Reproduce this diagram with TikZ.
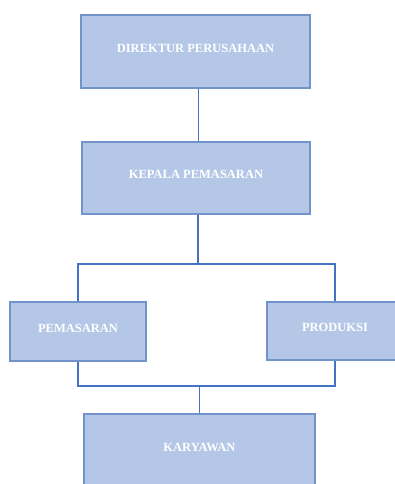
\documentclass[tikz,border=0pt]{standalone}
\usepackage{fontspec}
\setmainfont{Liberation Serif}
\definecolor{boxfill}{HTML}{B4C7E7}
\definecolor{boxline}{HTML}{7292CB}
\definecolor{conn}{HTML}{4472C4}
\tikzset{
  orgbox/.style={draw=boxline, line width=1.1pt, fill=boxfill, rectangle,
    inner sep=0pt, text=white, font=\fontsize{12.5}{14}\selectfont\bfseries,
    text depth=7pt},
  conline/.style={draw=conn, line width=1.3pt}
}
\begin{document}
\begin{tikzpicture}[x=1pt,y=-1pt]
\useasboundingbox (0,0) rectangle (395,484);
\clip (0,0) rectangle (395,484);
\node[orgbox, minimum width=229pt, minimum height=73pt] (dir) at (195.5,51.5) {DIREKTUR PERUSAHAAN};
\node[orgbox, minimum width=228pt, minimum height=72pt] (kep) at (196,178) {KEPALA PEMASARAN};
\node[orgbox, minimum width=136pt, minimum height=59pt] (pem) at (78,331.5) {PEMASARAN};
\node[orgbox, minimum width=136pt, minimum height=58pt] (pro) at (335,331) {PRODUKSI};
\node[orgbox, minimum width=231pt, minimum height=74pt] (kar) at (199.5,451) {KARYAWAN};
\coordinate (jt) at (198,264);
\coordinate (jb) at (199.5,386);
\draw[conline] ([xshift=3pt]dir.south) -- ([xshift=3pt]dir.south |- kep.north);
\draw[conline] (kep.south -| jt) -- (jt);
\draw[conline] (pem.north) |- (jt) -| (pro.north);
\draw[conline] (pem.south) |- (jb) -| (pro.south);
\draw[conline] (jb) -- (kar.north);
\end{tikzpicture}
\end{document}
